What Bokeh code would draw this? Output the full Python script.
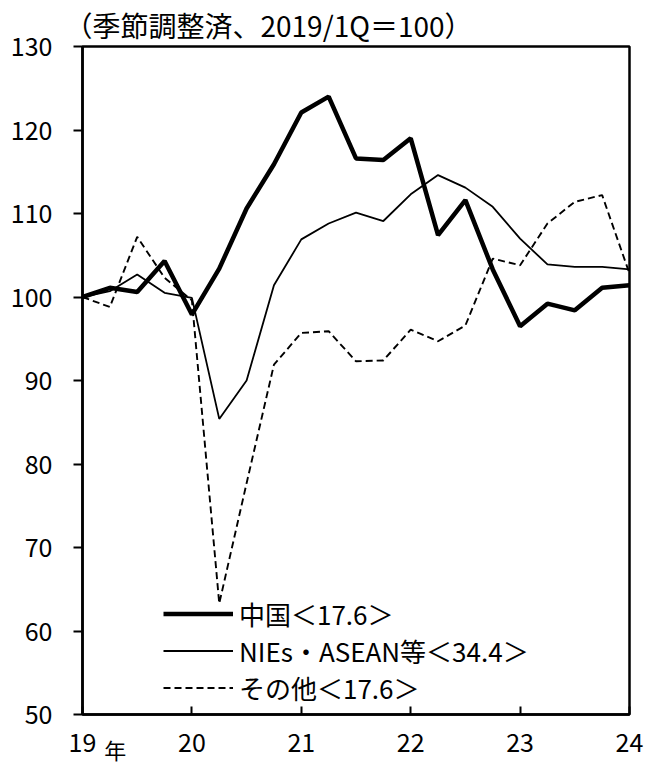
from bokeh.plotting import figure
from bokeh.models import Range1d, FixedTicker, Legend, LegendItem, LinearAxis
from bokeh.embed import file_html
from bokeh.resources import INLINE

FONT = "Noto Sans CJK JP"

# Quarterly positions: 2019Q1 .. 2024Q1 (in "year" units, 19 = 2019)
quarters = [19.00, 19.25, 19.50, 19.75, 20.00, 20.25, 20.50, 20.75,
            21.00, 21.25, 21.50, 21.75, 22.00, 22.25, 22.50, 22.75,
            23.00, 23.25, 23.50, 23.75, 24.00]

china = [100.0, 101.1, 100.6, 104.3, 97.9, 103.4, 110.6, 115.9,
         122.1, 124.0, 116.6, 116.4, 119.0, 107.4, 111.6, 103.3,
         96.5, 99.2, 98.4, 101.1, 101.4]

nies_asean = [100.0, 100.7, 102.7, 100.5, 99.9, 85.4, 90.0, 101.4,
              106.9, 108.8, 110.1, 109.1, 112.3, 114.6, 113.1, 110.8,
              107.0, 103.9, 103.6, 103.6, 103.3]

others = [100.0, 98.8, 107.2, 102.3, 99.6, 63.3, 77.7, 91.9,
          95.7, 95.9, 92.3, 92.4, 96.1, 94.7, 96.6, 104.6,
          103.8, 108.8, 111.4, 112.2, 102.8]

x_ticks = [19, 20, 21, 22, 23, 24]
x_tick_labels = ["19", "20", "21", "22", "23", "24"]
y_ticks = [50, 60, 70, 80, 90, 100, 110, 120, 130]

legend_labels = ["中国＜17.6＞", "NIEs・ASEAN等＜34.4＞", "その他＜17.6＞"]
title_text = "（季節調整済、2019/1Q＝100）"
year_suffix = "年"
year_suffix_pos = 19.3

p = figure(frame_width=547, frame_height=668,
           min_border_left=82, min_border_right=20,
           min_border_top=45, min_border_bottom=50,
           x_range=Range1d(19, 24), y_range=Range1d(50, 130),
           output_backend="svg", toolbar_location=None)

p.title.text = title_text
p.title.align = "left"
p.title.offset = -18
p.title.standoff = 4
p.title.text_font = FONT
p.title.text_font_size = "28px"
p.title.text_font_style = "normal"
p.title.text_color = "black"

p.xgrid.visible = False
p.ygrid.visible = False
p.background_fill_color = "white"
p.border_fill_color = "white"
p.outline_line_color = "black"
p.outline_line_width = 2.5

r1 = p.line(quarters, china, line_color="black", line_width=4.5)
r2 = p.line(quarters, nies_asean, line_color="black", line_width=1.8)
r3 = p.line(quarters, others, line_color="black", line_width=1.9, line_dash="7 4")

# axes
xa = p.xaxis[0]
xa.ticker = FixedTicker(ticks=x_ticks)
xa.major_label_overrides = {t: l for t, l in zip(x_ticks, x_tick_labels)}
xa.minor_tick_line_color = None
xa.major_tick_in = 8
xa.major_tick_out = 0
xa.major_label_standoff = 18
xa.axis_line_width = 2.5
xa.major_tick_line_width = 2
xa.axis_line_color = "black"
xa.major_tick_line_color = "black"
xa.major_label_text_font = FONT
xa.major_label_text_font_size = "25px"
xa.major_label_text_color = "black"

# secondary axis used only to place the "年" suffix beside the first label
xa2 = LinearAxis(ticker=FixedTicker(ticks=[year_suffix_pos]),
                 major_label_overrides={year_suffix_pos: year_suffix},
                 axis_line_color=None, major_tick_line_color=None,
                 minor_tick_line_color=None,
                 major_label_standoff=-28,
                 major_label_text_font=FONT,
                 major_label_text_font_size="22px",
                 major_label_text_color="black")
p.add_layout(xa2, "below")

ya = p.yaxis[0]
ya.ticker = FixedTicker(ticks=y_ticks)
ya.minor_tick_line_color = None
ya.major_tick_in = 0
ya.major_tick_out = 9
ya.major_label_standoff = 21
ya.axis_line_width = 2.5
ya.major_tick_line_width = 2
ya.axis_line_color = "black"
ya.major_tick_line_color = "black"
ya.major_label_text_font = FONT
ya.major_label_text_font_size = "25px"
ya.major_label_text_color = "black"

legend = Legend(items=[LegendItem(label=legend_labels[0], renderers=[r1]),
                       LegendItem(label=legend_labels[1], renderers=[r2]),
                       LegendItem(label=legend_labels[2], renderers=[r3])],
                location=(81, 8), orientation="vertical",
                label_text_font=FONT, label_text_font_size="26px",
                label_text_color="black",
                glyph_width=70, glyph_height=37, label_height=37,
                label_standoff=6, spacing=0, padding=0, margin=0,
                border_line_color=None, background_fill_alpha=0)
p.add_layout(legend, "center")

open("out.html", "w").write(file_html(p, INLINE))
